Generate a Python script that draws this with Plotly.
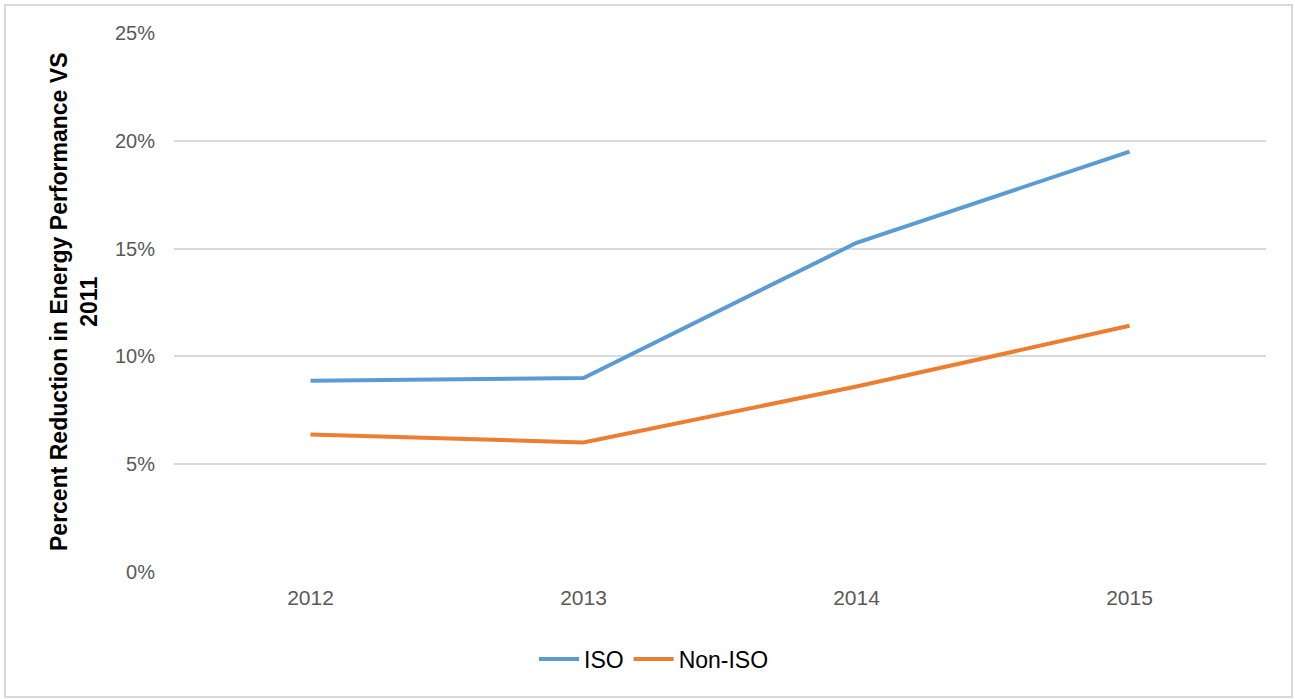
import plotly.graph_objects as go

years = ["2012", "2013", "2014", "2015"]
iso = [0.0887, 0.0900, 0.1527, 0.1950]
non_iso = [0.0638, 0.0601, 0.0860, 0.1142]
y_ticks = [0, 0.05, 0.10, 0.15, 0.20, 0.25]
y_tick_text = ["0%", "5%", "10%", "15%", "20%", "25%"]

fig = go.Figure()
fig.add_trace(go.Scatter(x=years, y=iso, mode="lines", name="ISO",
                         line=dict(color="#5B9BD5", width=4)))
fig.add_trace(go.Scatter(x=years, y=non_iso, mode="lines", name="Non-ISO",
                         line=dict(color="#ED7D31", width=4)))

L, R, T, B = 174, 29, 33, 127
W, H = 1295, 699
pw, ph = W - L - R, H - T - B

def px_x(x):
    return (x - L) / pw

def px_y(y):
    return (H - B - y) / ph

fig.update_layout(
    width=W, height=H,
    margin=dict(l=L, r=R, t=T, b=B),
    paper_bgcolor="white", plot_bgcolor="white",
    font=dict(family="Liberation Sans, Arial, sans-serif", color="#595959"),
    showlegend=True,
    legend=dict(orientation="h", x=px_x(654), xanchor="center",
                y=px_y(659), yanchor="middle",
                font=dict(size=23, color="#000000"),
                itemwidth=40,
                bgcolor="rgba(0,0,0,0)"),
    xaxis=dict(type="category", range=[-0.5, 3.5], showgrid=False,
               showline=False, zeroline=False, ticks="",
               tickfont=dict(size=21, color="#595959"),
               ticklabelstandoff=11),
    yaxis=dict(range=[0, 0.25], tickvals=y_ticks, ticktext=y_tick_text,
               showgrid=True, gridcolor="#D9D9D9", gridwidth=1.5,
               zeroline=False, showline=False, ticks="",
               tickfont=dict(size=20, color="#595959"),
               ticklabelstandoff=18),
    shapes=[dict(type="rect", xref="paper", yref="paper",
                 x0=px_x(5), x1=px_x(1292), y0=px_y(697), y1=px_y(5),
                 line=dict(color="#D9D9D9", width=2), layer="below")],
    annotations=[dict(text="<b>Percent Reduction in Energy Performance VS<br>2011</b>",
                      xref="paper", yref="paper", x=px_x(74), y=px_y(302),
                      xanchor="center", yanchor="middle", textangle=-90,
                      showarrow=False,
                      font=dict(size=23, color="#000000",
                                family="Liberation Sans, Arial, sans-serif"))],
)

fig.write_html("out.html")
